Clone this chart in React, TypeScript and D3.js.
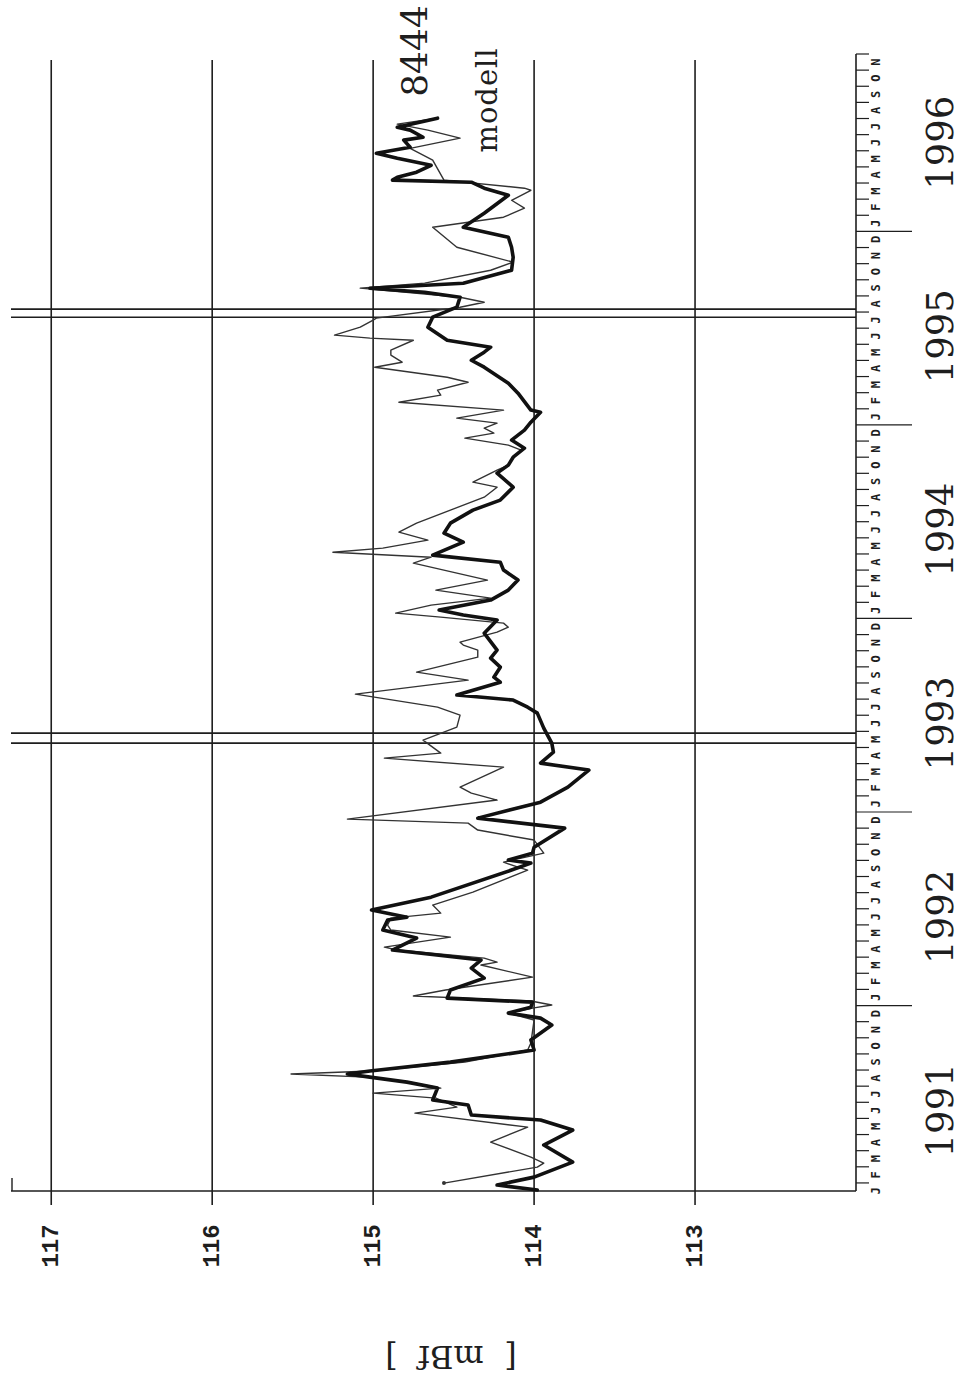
import React from "react";
import * as d3 from "d3";

const W = 961;
const H = 1393;

// time: months since 1 Jan 1991; value: mBf
const obsT = [0.56,0.87,1.36,2.29,3.35,4.28,4.90,5.21,5.83,6.14,6.88,7.25,7.56,7.75,7.94,8.49,9.24,9.86,10.79,11.22,11.53,11.90,12.21,12.46,12.96,13.70,14.32,14.82,15.44,16.18,16.68,17.30,17.48,17.92,18.72,20.40,20.83,21.02,21.45,21.82,23.00,23.62,24.61,25.54,26.60,27.03,27.71,28.27,29.20,30.13,30.50,30.94,31.25,32.05,32.36,32.98,33.54,34.04,35.09,35.90,36.21,36.52,37.14,37.76,38.38,39.00,39.49,39.93,40.73,41.29,41.91,42.72,43.34,44.14,45.01,45.51,46.00,46.56,47.06,47.68,48.17,48.79,48.92,49.97,50.59,51.58,52.01,52.51,52.82,53.25,54.06,54.68,55.30,55.92,56.23,56.48,56.79,57.59,58.40,59.02,59.64,60.26,61.13,62.24,62.68,63.05,63.18,63.36,63.67,64.10,64.54,64.85,65.22,65.66,65.84,66.28,66.46,67.02];
const obsV = [113.98,114.23,114.00,113.76,113.94,113.76,113.96,114.39,114.41,114.63,114.60,114.79,115.02,115.16,115.02,114.52,114.00,114.02,113.89,113.96,114.16,114.02,114.01,114.54,114.52,114.31,114.39,114.33,114.88,114.73,114.94,114.91,114.79,115.01,114.64,114.14,114.02,114.16,114.01,114.00,113.81,114.35,113.96,113.79,113.66,113.96,113.88,113.89,113.94,113.98,114.04,114.13,114.48,114.21,114.25,114.21,114.27,114.23,114.31,114.23,114.44,114.59,114.27,114.16,114.10,114.19,114.21,114.63,114.44,114.56,114.52,114.38,114.21,114.13,114.23,114.16,114.13,114.06,114.14,114.06,114.02,113.96,114.02,114.10,114.16,114.31,114.39,114.31,114.27,114.54,114.66,114.63,114.48,114.46,114.68,115.02,114.44,114.14,114.13,114.14,114.16,114.44,114.31,114.16,114.31,114.39,114.88,114.85,114.73,114.64,114.85,114.98,114.77,114.81,114.69,114.77,114.85,114.60];

const modT = [0.99,1.98,2.23,2.60,3.53,4.46,5.33,5.70,6.26,6.57,6.88,7.25,7.56,7.75,7.94,8.49,9.24,9.67,11.10,11.53,11.84,12.03,12.28,12.59,12.96,13.76,14.51,14.69,14.94,15.44,15.62,16.24,16.68,16.99,17.42,17.73,18.23,19.03,20.40,20.58,20.89,21.45,22.26,22.88,23.31,23.56,24.74,25.17,25.54,26.78,27.34,27.65,28.46,29.26,30.01,30.50,31.31,32.18,32.67,33.60,34.04,34.35,34.53,35.15,35.46,35.71,36.08,36.33,36.83,37.26,37.76,38.38,39.43,39.80,40.11,40.36,40.86,41.35,41.91,42.72,43.52,44.14,44.45,45.20,45.51,46.00,46.44,46.75,47.18,47.49,47.80,48.11,48.42,48.92,49.41,49.85,50.16,50.65,50.96,51.58,51.89,52.33,52.64,53.25,53.38,53.57,54.06,54.50,54.62,55.30,55.61,55.92,56.48,56.79,57.59,58.09,59.02,60.26,60.88,61.44,61.93,62.55,62.68,63.18,64.42,65.15,65.78,66.28,66.65,67.02];
const modV = [114.56,113.98,113.94,114.02,114.27,114.04,114.74,114.48,114.61,115.00,114.58,114.77,115.04,115.51,115.01,114.43,114.04,114.02,114.00,114.16,114.01,113.89,114.02,114.75,114.55,114.01,114.33,114.23,114.31,114.85,114.93,114.52,114.89,114.91,114.89,114.58,114.63,114.38,114.04,114.10,114.19,113.94,114.00,114.35,114.41,115.16,114.23,114.39,114.46,114.19,114.93,114.58,114.69,114.48,114.46,114.60,115.11,114.41,114.73,114.35,114.35,114.44,114.46,114.23,114.16,114.19,114.58,114.86,114.64,114.27,114.61,114.29,114.75,114.64,115.25,114.94,114.66,114.84,114.73,114.52,114.31,114.23,114.38,114.23,114.16,114.13,114.08,114.16,114.43,114.25,114.31,114.23,114.48,114.19,114.84,114.58,114.60,114.41,114.54,114.99,114.82,114.89,114.89,114.75,115.02,115.24,115.08,115.00,114.98,114.46,114.31,114.46,115.08,114.68,114.27,114.13,114.48,114.63,114.19,114.06,114.14,114.02,114.06,114.56,114.63,114.77,114.46,114.66,114.85,114.60];

const valueTicks = [117, 116, 115, 114, 113];
const monthLetters = ["J", "F", "M", "A", "M", "J", "J", "A", "S", "O", "N", "D"];
const years = [1991, 1992, 1993, 1994, 1995, 1996];
const eventLines = [28.27, 28.89, 54.68, 55.18];
const seriesLabels = ["8444", "modell"];

export default function App() {
  const x = d3.scaleLinear().domain([117.25, 112]).range([11, 856]);
  const y = d3.scaleLinear().domain([0.5, 71]).range([1191, 54]);

  const obsLine = d3
    .line<number>()
    .x((_, i) => x(obsV[i]))
    .y((_, i) => y(obsT[i]));
  const modLine = d3
    .line<number>()
    .x((_, i) => x(modV[i]))
    .y((_, i) => y(modT[i]));

  const ink = "#1e1e1e";
  const monthTicks = d3.range(1, 72);
  const monthLabels = d3.range(0, 71);

  return (
    <svg
      width={W}
      height={H}
      style={{ position: "absolute", left: 0, top: 0, background: "#fff" }}
    >
      <rect width={W} height={H} fill="#fff" />
      {/* value grid lines */}
      {valueTicks.map((v) => (
        <line key={v} x1={x(v)} x2={x(v)} y1={60} y2={1205} stroke={ink} strokeWidth={1.6} />
      ))}
      {/* bottom axis */}
      <line x1={x(117.25)} x2={856} y1={1191} y2={1191} stroke={ink} strokeWidth={1.6} />
      <line x1={12} x2={12} y1={1178} y2={1191} stroke={ink} strokeWidth={1.4} />
      {/* time axis */}
      <line x1={856} x2={856} y1={y(71)} y2={1191} stroke={ink} strokeWidth={1.6} />
      {monthTicks.map((m) => (
        <line
          key={m}
          x1={856}
          x2={m % 12 === 0 ? 912 : 869}
          y1={y(m)}
          y2={y(m)}
          stroke={ink}
          strokeWidth={1.2}
        />
      ))}
      {monthLabels.map((m) => (
        <text
          key={m}
          transform={`translate(876,${y(m + 0.5)}) rotate(-90)`}
          textAnchor="middle"
          dominantBaseline="central"
          fontFamily="DejaVu Sans Mono"
          fontWeight="bold"
          fontSize={12}
          fill={ink}
        >
          {monthLetters[m % 12]}
        </text>
      ))}
      {years.map((yr, i) => (
        <text
          key={yr}
          transform={`translate(940,${y(i * 12 + 5.5)}) rotate(-90)`}
          textAnchor="middle"
          dominantBaseline="central"
          fontFamily="DejaVu Serif"
          fontSize={37}
          fill={ink}
        >
          {yr}
        </text>
      ))}
      {/* event double lines */}
      {eventLines.map((t, i) => (
        <line key={i} x1={11} x2={856} y1={y(t)} y2={y(t)} stroke={ink} strokeWidth={1.6} />
      ))}
      {/* value tick labels */}
      {valueTicks.map((v) => (
        <text
          key={v}
          transform={`translate(${x(v)},1246) rotate(-90)`}
          textAnchor="middle"
          dominantBaseline="central"
          fontFamily="Liberation Mono"
          fontWeight="bold"
          fontSize={24}
          fill={ink}
        >
          {v}
        </text>
      ))}
      <text
        transform="translate(451,1357) rotate(180)"
        textAnchor="middle"
        dominantBaseline="central"
        fontFamily="DejaVu Serif"
        fontSize={32}
        fill={ink}
        style={{ whiteSpace: "pre" }}
      >
        {"[  mBf  ]"}
      </text>
      {/* series */}
      <path d={modLine(modT) ?? ""} fill="none" stroke="#333" strokeWidth={1.4} strokeLinejoin="round" />
      <circle cx={x(modV[0])} cy={y(modT[0])} r={2} fill="#333" />
      <path d={obsLine(obsT) ?? ""} fill="none" stroke="#111" strokeWidth={3.6} strokeLinejoin="round" strokeLinecap="round" />
      {/* series labels */}
      <text
        transform="translate(414,51) rotate(-90)"
        textAnchor="middle"
        dominantBaseline="central"
        fontFamily="DejaVu Serif"
        fontSize={36}
        fill={ink}
      >
        {seriesLabels[0]}
      </text>
      <text
        transform="translate(487,100) rotate(-90)"
        textAnchor="middle"
        dominantBaseline="central"
        fontFamily="DejaVu Serif"
        fontSize={29}
        letterSpacing={1}
        fill={ink}
      >
        {seriesLabels[1]}
      </text>
    </svg>
  );
}
